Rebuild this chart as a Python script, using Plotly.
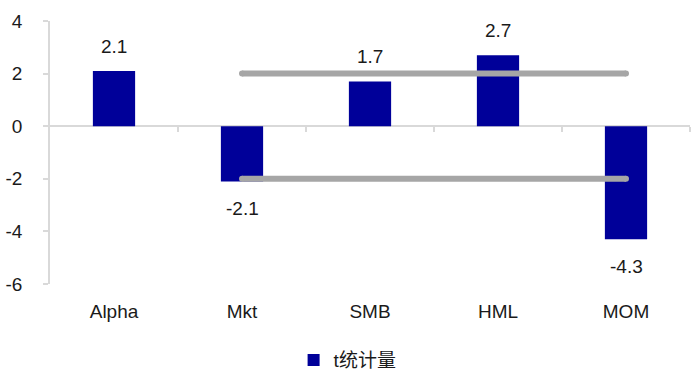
import plotly.graph_objects as go

categories = ["Alpha", "Mkt", "SMB", "HML", "MOM"]
t_values = [2.1, -2.1, 1.7, 2.7, -4.3]
threshold_x = ["Mkt", "MOM"]
upper_threshold = [2, 2]
lower_threshold = [-2, -2]
y_ticks = [-6, -4, -2, 0, 2, 4]
series_name = "t统计量"

FONT = "Liberation Sans, Arial, Noto Sans CJK SC, sans-serif"
BAR = "#000099"
GRAY_LINE = "#A6A6A6"
AXIS = "#D9D9D9"
TXT = "#1a1a1a"

fig = go.Figure()
fig.add_trace(go.Bar(x=categories, y=t_values, name=series_name,
                     marker=dict(color=BAR, line=dict(width=0)), width=0.33))
for yv in (upper_threshold, lower_threshold):
    fig.add_trace(go.Scatter(x=threshold_x, y=yv, mode="lines+markers",
                             line=dict(color=GRAY_LINE, width=6),
                             marker=dict(color=GRAY_LINE, size=6),
                             showlegend=False, hoverinfo="skip"))
# invisible trace to carry the zero-line axis
fig.add_trace(go.Scatter(x=[0, 4], y=[0, 0], xaxis="x2", mode="lines",
                         line=dict(width=0), showlegend=False, hoverinfo="skip",
                         opacity=0))

for c, v in zip(categories, t_values):
    fig.add_annotation(x=c, y=v, text=f"{v:.1f}", showarrow=False,
                       yanchor="bottom" if v >= 0 else "top",
                       yshift=12 if v >= 0 else -15,
                       font=dict(family=FONT, size=19, color=TXT))

fig.update_layout(
    width=699, height=381,
    margin=dict(l=50, r=9, t=21, b=97, autoexpand=False),
    plot_bgcolor="white", paper_bgcolor="white",
    font=dict(family=FONT, size=19, color=TXT),
    showlegend=True,
    legend=dict(orientation="h", x=0.465, xanchor="center",
                yref="container", y=0.055, yanchor="middle",
                font=dict(family=FONT, size=19, color=TXT), itemwidth=30),
    xaxis=dict(type="category", categoryorder="array", categoryarray=categories,
               range=[-0.5, 4.5], showline=False, showgrid=False, zeroline=False,
               ticks="outside", ticklen=10, tickcolor="rgba(0,0,0,0)",
               automargin=False,
               tickfont=dict(family=FONT, size=19, color=TXT)),
    xaxis2=dict(overlaying="x", anchor="free", position=0.6, range=[-0.5, 4.5],
                showline=True, linecolor=AXIS, linewidth=1.5,
                tickvals=[0.5, 1.5, 2.5, 3.5, 4.5], ticks="outside", ticklen=5,
                tickcolor=AXIS, tickwidth=1.5, showticklabels=False,
                showgrid=False, zeroline=False, layer="below traces"),
    yaxis=dict(range=[-6, 4], tickvals=y_ticks, ticktext=[str(t) for t in y_ticks],
               showgrid=False, zeroline=False, automargin=False,
               showline=True, linecolor=AXIS, linewidth=1.5,
               ticks="outside", ticklen=5, tickcolor=AXIS, tickwidth=1.5,
               ticklabelstandoff=17,
               tickfont=dict(family=FONT, size=19, color=TXT)),
)

fig.write_html("out.html")
